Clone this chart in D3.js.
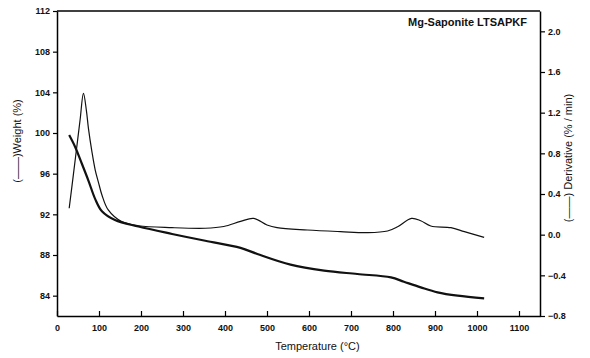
<!DOCTYPE html>
<html>
<head>
<meta charset="utf-8">
<script src="https://cdn.jsdelivr.net/npm/d3@7"></script>
<style>
  body { margin: 0; background: #fff; }
  svg { font-family: "Liberation Sans", Arial, sans-serif; }
</style>
</head>
<body>
<svg id="chart" width="590" height="358"></svg>
<script>
// weight curve (left axis)
var weightTemp = [29, 43, 59, 75, 91, 107, 138, 194, 274, 353, 437, 477, 556, 636, 715, 795, 826, 866, 906, 954, 1017];
var weightVal  = [99.8, 98.65, 97.0, 95.3, 93.5, 92.3, 91.44, 90.8, 90.07, 89.4, 88.7, 88.1, 87.05, 86.46, 86.13, 85.8, 85.37, 84.82, 84.33, 84.0, 83.74];

// derivative curve (right axis)
var derivTemp = [29, 39, 47, 55, 63, 70, 75, 83, 91, 99, 107, 122, 154, 194, 274, 353, 397, 437, 468, 500, 524, 596, 675, 739, 787, 811, 844, 866, 890, 938, 970, 1017];
var derivVal  = [0.26, 0.59, 0.86, 1.13, 1.39, 1.22, 1.04, 0.82, 0.636, 0.51, 0.39, 0.243, 0.128, 0.088, 0.069, 0.063, 0.08, 0.13, 0.16, 0.095, 0.069, 0.046, 0.03, 0.02, 0.036, 0.078, 0.16, 0.137, 0.085, 0.069, 0.03, -0.026];

var xTicks = [0, 100, 200, 300, 400, 500, 600, 700, 800, 900, 1000, 1100];
var leftTicks = [84, 88, 92, 96, 100, 104, 108, 112];
var rightTicks = [-0.8, -0.4, 0.0, 0.4, 0.8, 1.2, 1.6, 2.0];

var svg = d3.select("#chart"),
    margin = {top: 11, right: 50, bottom: 42, left: 57},
    width = +svg.attr("width") - margin.left - margin.right,
    height = +svg.attr("height") - margin.top - margin.bottom,
    g = svg.append("g").attr("transform", "translate(" + margin.left + "," + margin.top + ")");

var x = d3.scaleLinear().domain([0, 1150]).range([0, width]);
var yL = d3.scaleLinear().domain([82, 112]).range([height, 0]);
var yR = d3.scaleLinear().domain([-0.8, 2.2]).range([height, 0]);

//axes
g.append("g")
    .attr("transform", "translate(0," + height + ")")
    .call(d3.axisBottom(x).tickValues(xTicks).tickSizeInner(-5).tickSizeOuter(0).tickPadding(9)
        .tickFormat(d3.format("d")));

g.append("g")
    .call(d3.axisLeft(yL).tickValues(leftTicks).tickSizeInner(4).tickSizeOuter(0).tickPadding(3));

g.append("g")
    .attr("transform", "translate(" + width + ",0)")
    .call(d3.axisRight(yR).tickValues(rightTicks).tickSizeInner(5).tickSizeOuter(0).tickPadding(3)
        .tickFormat(d3.format(".1f")));

// top frame line
g.append("line")
    .attr("x1", 0).attr("x2", width)
    .attr("y1", 0).attr("y2", 0)
    .attr("stroke", "#000").attr("stroke-width", 1.5);

svg.selectAll(".domain").attr("stroke-width", 1.5);
svg.selectAll(".tick line").attr("stroke-width", 1.2);
svg.selectAll(".tick text")
    .attr("font-size", 9)
    .attr("font-weight", "bold")
    .attr("fill", "#111");

var weightLine = d3.line()
    .x(function(d, i){ return x(weightTemp[i]); })
    .y(function(d){ return yL(d); })
    .curve(d3.curveCatmullRom.alpha(0.5));

var derivLine = d3.line()
    .x(function(d, i){ return x(derivTemp[i]); })
    .y(function(d){ return yR(d); })
    .curve(d3.curveCatmullRom.alpha(0.5));

g.append("path")
    .datum(derivVal)
    .attr("fill", "none")
    .attr("stroke", "#111")
    .attr("stroke-width", 1.2)
    .attr("stroke-linejoin", "round")
    .attr("d", derivLine);

g.append("path")
    .datum(weightVal)
    .attr("fill", "none")
    .attr("stroke", "#111")
    .attr("stroke-width", 2.2)
    .attr("stroke-linejoin", "round")
    .attr("d", weightLine);

// title
g.append("text")
    .attr("x", width - 13)
    .attr("y", 15)
    .attr("text-anchor", "end")
    .attr("font-size", 11)
    .attr("font-weight", "bold")
    .attr("fill", "#111")
    .text("Mg-Saponite LTSAPKF");

// axis titles
svg.append("text")
    .attr("x", margin.left + x(620))
    .attr("y", 350)
    .attr("text-anchor", "middle")
    .attr("font-size", 11)
    .attr("fill", "#111")
    .text("Temperature (\u00B0C)");

svg.append("text")
    .attr("transform", "translate(21,141) rotate(-90)")
    .attr("text-anchor", "middle")
    .attr("font-size", 11)
    .attr("fill", "#111")
    .text("(\u2014\u2014)Weight (%)");

svg.append("text")
    .attr("transform", "translate(572,158) rotate(-90)")
    .attr("text-anchor", "middle")
    .attr("font-size", 11)
    .attr("fill", "#111")
    .text("(\u2014\u2014) Derivative (% / min)");
</script>
</body>
</html>
